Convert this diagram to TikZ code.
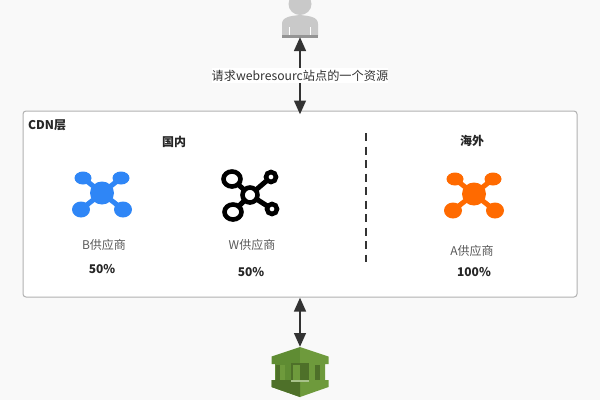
\documentclass[tikz,border=0pt]{standalone}
\usepackage{fontspec}
\setmainfont{Noto Sans CJK SC}
\usetikzlibrary{arrows.meta,calc}
\definecolor{bgc}{HTML}{F9F9F9}
\definecolor{dark}{HTML}{333333}
\definecolor{gl}{HTML}{6E9A3C}
\definecolor{gd}{HTML}{4E7029}
\definecolor{gm}{HTML}{5F8C33}
\definecolor{hubblue}{HTML}{2F86F6}
\definecolor{huborange}{HTML}{FF6A00}
\tikzset{
  lab/.style={font=\fontsize{12.2}{14}\selectfont,text=dark,inner sep=0pt},
  vendor/.style={font=\fontsize{12}{14}\selectfont,text=black!65,inner sep=0pt},
  bold/.style={font=\fontsize{12}{14}\selectfont\bfseries,text=black!85,inner sep=0pt},
  conn/.style={draw=dark,line width=2.8pt,{Triangle[length=14pt,width=11.5pt]}-{Triangle[length=14pt,width=11.5pt]}},
  spoke/.style={line width=5pt},
  ring/.style={draw=black,fill=white,line width=4.6pt},
}
\newcommand{\solidhub}[3]{%
  \draw[#3,spoke] (#1,#2) -- ++(-19,-15) (#1,#2) -- ++(19,-15) (#1,#2) -- ++(-21,16.5) (#1,#2) -- ++(21,16.5);
  \fill[#3] (#1,#2) circle[x radius=12,y radius=11.5];
  \fill[#3] (#1-19,#2-15) circle[x radius=8.5,y radius=6.5];
  \fill[#3] (#1+19,#2-15) circle[x radius=8.5,y radius=6.5];
  \fill[#3] (#1-21,#2+16.5) circle[x radius=9,y radius=8];
  \fill[#3] (#1+21,#2+16.5) circle[x radius=9,y radius=8];
}
\begin{document}
\begin{tikzpicture}[x=1pt,y=-1pt]
\useasboundingbox (0,0) rectangle (600,400);
\fill[bgc] (0,0) rectangle (600,400);
% CDN box
\node[draw=black!30,fill=white,line width=1pt,rounded corners=3pt,minimum width=554pt,minimum height=186pt,inner sep=0pt] (cdn) at (300,204) {};
% person
\fill[black!21] (300,4) circle[x radius=11.5,y radius=11];
\fill[black!21] (282,36) -- (282,24) .. controls (282,17) and (290,16) .. (300,15) .. controls (310,16) and (318,17) .. (318,24) -- (318,36) -- cycle;
\fill[black!42] (282,35) rectangle (318,37.5);
\draw[white,line width=.9pt] (289.5,27) -- (289.5,35) (310.5,27) -- (310.5,35);
\coordinate (user) at (300,37);
% queue
\fill[gm] (271.5,356.5) -- (300,347) -- (300,397) -- (271.5,387) -- (271.5,380) -- (275,380) -- (275,364) -- (271.5,364) -- cycle;
\fill[gl] (300,347) -- (328.5,356.5) -- (328.5,364) -- (325,364) -- (325,380) -- (328.5,380) -- (328.5,387) -- (300,397) -- cycle;
\fill[gd] (271.5,380) -- (300,380) -- (300,397) -- (271.5,387) -- cycle;
\fill[gd] (276,365) rectangle (280,380);
\fill[gl] (280,365) rectangle (285,380);
\fill[gd] (291,362.5) rectangle (309,381);
\fill[gl] (293,364.5) rectangle (300,381);
\fill[gl!60!white] (291,380) -- (309,380) -- (309,382) -- (291,382) -- cycle;
\fill[gd] (315,365) rectangle (320,380);
\coordinate (queue) at (300,347);
% connectors
\coordinate (cdntop) at ($(cdn.north)+(0,4)$);
\draw[conn] (user) -- (cdntop);
\draw[conn] (cdn.south) -- (queue);
\node[lab,fill=white,inner ysep=1.5pt] (reqlab) at (300,75.5) {请求webresourc站点的一个资源};
% titles
\node[bold,anchor=west] (cdnlab) at (28,125) {CDN层};
\node[bold] (cn) at (174,142) {国内};
\node[bold] (os) at (472,141) {海外};
% divider
\draw[dark,line width=1.8pt,dash pattern=on 8pt off 5.5pt] (366,133) -- (366,262);
% solid icons
\solidhub{102}{193}{hubblue}
\solidhub{474}{194}{huborange}
% ring icon
\draw[black,spoke] (250,195) -- (232,179) (250,195) -- (271,177) (250,195) -- (233,212) (250,195) -- (272,209);
\draw[ring] (250,195) circle[radius=7.5];
\draw[ring] (232,179) circle[x radius=8.5,y radius=7.5];
\draw[ring] (233,212) circle[x radius=8.5,y radius=7.5];
\draw[ring] (271,177) circle[radius=5];
\draw[ring] (272,209) circle[radius=5];
% labels
\node[vendor] (bv) at (104,245) {B供应商};
\node[bold] (bp) at (102,269) {50\%};
\node[vendor] (wv) at (252,245) {W供应商};
\node[bold] (wp) at (251,272.5) {50\%};
\node[vendor] (av) at (472,251) {A供应商};
\node[bold] (ap) at (474,272.5) {100\%};
\end{tikzpicture}
\end{document}
